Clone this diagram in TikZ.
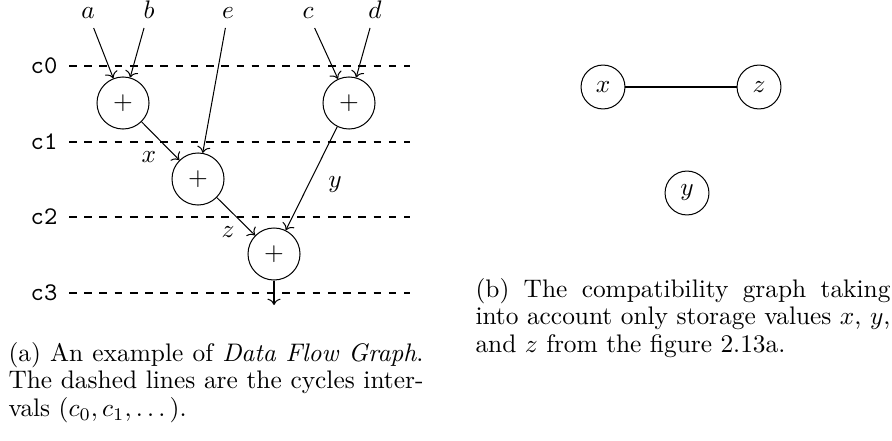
\documentclass[tikz,border=0pt]{standalone}
\usepackage{amsmath}
\usepackage{tikz}
\usetikzlibrary{arrows.meta,positioning}

\begin{document}
\begin{tikzpicture}[x=0.394pt,y=-0.394pt,
    addop/.style={circle,draw,minimum size=20.5pt,inner sep=0pt},
    storage/.style={circle,draw,minimum size=17.3pt,inner sep=0pt},
    cycline/.style={dashed},
    caption/.style={anchor=base west,inner sep=0pt,text width=163.5pt,align=justify,font=\fontsize{10}{11}\selectfont}]
  \useasboundingbox (0,0) rectangle (892,440);
  % cycle intervals
  \foreach \i/\y in {0/66,1/142,2/217,3/293} {
    \node (c\i) at (44,\y) {\texttt{c\i}};
    \draw[cycline] (69,\y) -- (410,\y);
  }
  % inputs
  \node[anchor=base] (a) at (88,19) {$a$};
  \node[anchor=base] (b) at (149,19) {$b$};
  \node[anchor=base] (e) at (228,19) {$e$};
  \node[anchor=base] (c) at (308,19) {$c$};
  \node[anchor=base] (d) at (375,19) {$d$};
  % operations
  \node[addop] (add1) at (123,103) {$+$};
  \node[addop] (add2) at (198,179) {$+$};
  \node[addop] (add3) at (349,103) {$+$};
  \node[addop] (add4) at (274,254) {$+$};
  \coordinate (out) at (274,305);
  \draw[->] (a) -- (add1);
  \draw[->] (b) -- (add1);
  \draw[->] (c) -- (add3);
  \draw[->] (d) -- (add3);
  \draw[->] (e) -- (add2);
  \draw[->] (add1) -- (add2);
  \draw[->] (add2) -- (add4);
  \draw[->] (add3) -- (add4);
  \draw[->] (add4) -- (out);
  \node (lx) at (149,157) {$x$};
  \node (ly) at (335,185) {$y$};
  \node (lz) at (228,232) {$z$};
  % compatibility graph
  \node[storage] (vx) at (603,87) {$x$};
  \node[storage] (vz) at (759,87) {$z$};
  \node[storage] (vy) at (687,193) {$y$};
  \draw (vx) -- (vz);
  % captions
  \node[caption] (capa) at (8,361) {(a) An example of \emph{Data Flow Graph}.\linebreak
    The dashed lines are the cycles inter-\linebreak vals $(c_0, c_1, \dots)$.};
  \node[caption] (capb) at (475,297) {(b) The compatibility graph taking\linebreak
    into account only storage values $x$, $y$,\linebreak and $z$ from the figure 2.13a.};
\end{tikzpicture}
\end{document}
